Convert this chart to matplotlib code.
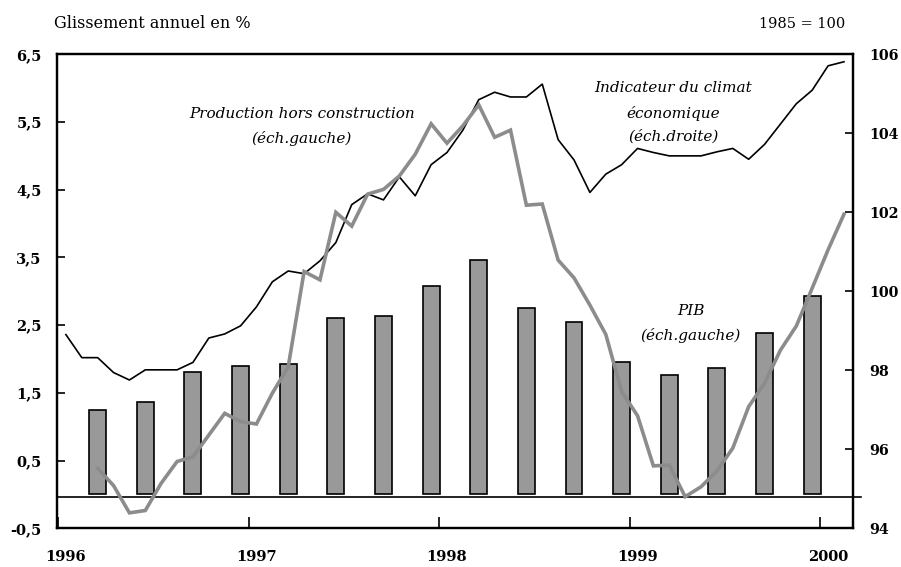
import numpy as np
import matplotlib
matplotlib.use("Agg")
import matplotlib.pyplot as plt
from matplotlib.transforms import ScaledTranslation

# monthly series, Jan 1996 -> Feb 2000
production = [2.36, 2.02, 2.02, 1.80, 1.69, 1.84, 1.84, 1.84, 1.95, 2.31, 2.37, 2.49,
              2.77, 3.14, 3.30, 3.26, 3.45, 3.72, 4.28, 4.44, 4.35, 4.69, 4.41, 4.87,
              5.05, 5.38, 5.83, 5.94, 5.87, 5.87, 6.06, 5.24, 4.94, 4.46, 4.73, 4.87,
              5.11, 5.05, 5.00, 5.00, 5.00, 5.06, 5.11, 4.95, 5.17, 5.47, 5.77, 5.97,
              6.33, 6.39]

# climate indicator, Mar 1996 -> Feb 2000
climat = [95.52, 95.08, 94.39, 94.45, 95.14, 95.69, 95.81, 96.36, 96.91, 96.70,
          96.64, 97.42, 98.09, 100.50, 100.29, 102.0, 101.65, 102.46, 102.58, 102.92,
          103.47, 104.24, 103.75, 104.19, 104.72, 103.90, 104.08, 102.18, 102.21, 100.79,
          100.34, 99.65, 98.91, 97.46, 96.85, 95.58, 95.60, 94.80, 95.05, 95.45,
          96.03, 97.08, 97.67, 98.51, 99.12, 100.08, 101.05, 101.95]

# quarterly GDP, 1996Q1 -> 1999Q4
pib = [1.25, 1.36, 1.81, 1.90, 1.93, 2.60, 2.63, 3.08,
       3.46, 2.75, 2.54, 1.95, 1.77, 1.86, 2.39, 2.93]

years = [1996, 1997, 1998, 1999, 2000]
left_ticks = [-0.5, 0.5, 1.5, 2.5, 3.5, 4.5, 5.5, 6.5]
right_ticks = [94, 96, 98, 100, 102, 104, 106]

# dates as decimal years (middle of month)
x_prod = 1996 + (np.arange(len(production)) + 0.5) / 12
x_clim = 1996 + (np.arange(len(climat)) + 2.5) / 12
x_pib = 1996 + (np.arange(len(pib)) * 3 + 2.5) / 12

plt.rcParams['font.family'] = 'DejaVu Serif'

fig = plt.figure(figsize=(9.01, 5.67), dpi=100)
ax = fig.add_axes([0.0633, 0.0683, 0.8831, 0.8359])
ax2 = ax.twinx()

ax.bar(x_pib, pib, width=0.089, color='#999999', edgecolor='black', linewidth=1.2, zorder=2)
ax.plot(x_prod, production, color='black', linewidth=1.2, zorder=3)
ax.axhline(-0.04, xmin=0, xmax=1.01, color='black', linewidth=1.2, clip_on=False, zorder=1)
ax2.plot(x_clim, climat, color='#8c8c8c', linewidth=2.6, solid_joinstyle='miter')

ax.set_xlim(1995.995, 2000.171)
ax.set_ylim(-0.5, 6.5)
ax2.set_ylim(94, 106)

ax.set_yticks(left_ticks)
ax.set_yticklabels([f"{t:.1f}".replace('.', ',') for t in left_ticks])
ax2.set_yticks(right_ticks)
ax2.set_yticklabels([str(t) for t in right_ticks])
ax.set_xticks(years)
ax.set_xticklabels([str(y) for y in years])

for a in (ax, ax2):
    for s in a.spines.values():
        s.set_linewidth(1.6)

ax.tick_params(axis='y', direction='in', length=6, width=1.2, pad=11, labelsize=10.5)
ax2.tick_params(axis='y', direction='in', length=6, width=1.2, pad=12, labelsize=10.3)
ax.tick_params(axis='x', direction='in', length=8, width=1.2, pad=16, labelsize=10.5)
for lab in ax.get_yticklabels() + ax2.get_yticklabels() + ax.get_xticklabels():
    lab.set_fontweight('bold')
for lab in ax.get_xticklabels():
    lab.set_transform(lab.get_transform() + ScaledTranslation(0.08, 0, fig.dpi_scale_trans))

fig.text(54 / 901, 1 - 24 / 567, "Glissement annuel en %", fontsize=11.5, ha='left', va='center')
fig.text(845 / 901, 1 - 24 / 567, "1985 = 100", fontsize=10.5, ha='right', va='center')

ax.text(1997.28, 5.62, "Production hors construction", style='italic', fontsize=11, ha='center', va='center')
ax.text(1997.28, 5.26, "(éch.gauche)", style='italic', fontsize=11, ha='center', va='center')
ax.text(1999.23, 6.0, "Indicateur du climat", style='italic', fontsize=11, ha='center', va='center')
ax.text(1999.23, 5.63, "économique", style='italic', fontsize=11, ha='center', va='center')
ax.text(1999.23, 5.28, "(éch.droite)", style='italic', fontsize=11, ha='center', va='center')
ax.text(1999.32, 2.71, "PIB", style='italic', fontsize=11, ha='center', va='center')
ax.text(1999.32, 2.35, "(éch.gauche)", style='italic', fontsize=11, ha='center', va='center')

fig.savefig("out.png", dpi=100)
